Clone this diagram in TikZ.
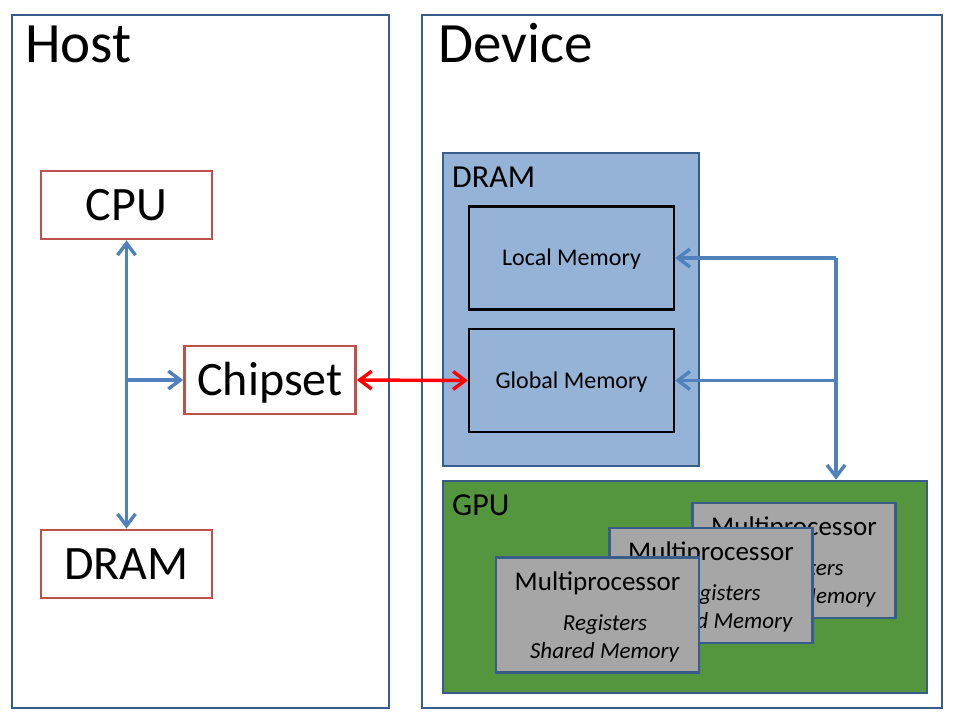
\documentclass[tikz,border=0pt]{standalone}
\usepackage{fontspec}
\setmainfont{Carlito}
\usetikzlibrary{arrows.meta}
\definecolor{frame}{HTML}{385D8A}
\definecolor{redb}{HTML}{C0504D}
\definecolor{arrowblue}{HTML}{4F81BD}
\definecolor{dramfill}{HTML}{95B3D7}
\definecolor{gpufill}{HTML}{53963D}
\definecolor{mpfill}{HTML}{A6A6A6}
\tikzset{
  outerbox/.style={draw=frame, line width=2pt},
  redbox/.style={draw=redb, line width=2.7pt, minimum width=171pt, minimum height=68pt,
    inner sep=0pt, font=\fontsize{48}{50}\selectfont, text height=30.3pt, text depth=0pt},
  region/.style={draw=frame, line width=2.5pt, inner sep=0pt},
  membox/.style={draw=black, line width=2.2pt, fill=dramfill, minimum width=205pt,
    minimum height=103pt, inner sep=0pt, font=\fontsize{24}{26}\selectfont,
    text height=15.2pt, text depth=0pt},
  mpbox/.style={draw=frame, line width=2.8pt, fill=mpfill, minimum width=203pt,
    minimum height=115pt, inner sep=0pt},
  mptitle/.style={font=\fontsize{27}{29}\selectfont, inner sep=0pt, anchor=base},
  mpitem/.style={font=\fontsize{23}{25}\selectfont\itshape, inner sep=0pt, anchor=base},
  biglabel/.style={font=\fontsize{57}{60}\selectfont, inner sep=0pt, anchor=base west},
  sublabel/.style={font=\fontsize{32}{34}\selectfont, inner sep=0pt, anchor=base west},
  barb/.tip={Straight Barb[length=12pt,width=18pt]},
  barrow/.style={draw=arrowblue, line width=3.4pt, -barb},
  barrowboth/.style={draw=arrowblue, line width=3.4pt, barb-barb},
  rarrow/.style={draw=red, line width=3.4pt, barb-barb}
}
\begin{document}
\begin{tikzpicture}[x=1pt,y=-1pt]
\useasboundingbox (0,0) rectangle (960,720);
\fill[white] (0,0) rectangle (960,720);

% outer frames
\node[outerbox, minimum width=377pt, minimum height=693pt, inner sep=0pt] (host) at (200.5,361.5) {};
\node[outerbox, minimum width=520pt, minimum height=693pt, inner sep=0pt] (device) at (682,361.5) {};
\node[biglabel] (hostlbl) at (25,62) {Host};
\node[biglabel] (devlbl) at (438,62) {Device};

% host parts
\node[redbox] (cpu) at (126.5,205) {CPU};
\node[redbox] (chip) at (270,380) {Chipset};
\node[redbox] (hdram) at (126.5,564) {DRAM};

% device DRAM
\node[region, fill=dramfill, minimum width=256pt, minimum height=313pt] (ddram) at (571,309.5) {};
\node[sublabel] (ddramlbl) at (452,187) {DRAM};
\node[membox] (lm) at (571.5,258) {Local Memory};
\node[membox] (gm) at (571.5,380.5) {Global Memory};

% GPU
\node[region, fill=gpufill, minimum width=484pt, minimum height=212pt] (gpu) at (685,587) {};
\node[sublabel] (gpulbl) at (452,515) {GPU};

\foreach \n/\cx/\cy in {3/794/560.5, 2/711/585.5, 1/597.5/615} {
  \node[mpbox] (mp\n) at (\cx,\cy) {};
  \node[mptitle] (mpt\n) at ({\cx},{\cy-25}) {Multiprocessor};
  \node[mpitem] (mpr\n) at ({\cx+7.5},{\cy+15}) {Registers};
  \node[mpitem] (mps\n) at ({\cx+7},{\cy+43}) {Shared Memory};
}

% host connectors
\coordinate (jc) at (cpu.south |- chip.west);
\draw[barrowboth] (cpu.south) -- (hdram.north);
\draw[barrow] (jc) -- (chip.west);

% host-device link
\draw[rarrow] (chip.east) -- (gm.west);

% device connectors
\coordinate (jt) at (836,258);
\coordinate (jm) at (836,380.5);
\draw[barrow] (jt) -- (lm.east);
\draw[barrow] (jm) -- (gm.east);
\draw[barrow] (jt) -- (jt |- gpu.north);
\end{tikzpicture}
\end{document}
